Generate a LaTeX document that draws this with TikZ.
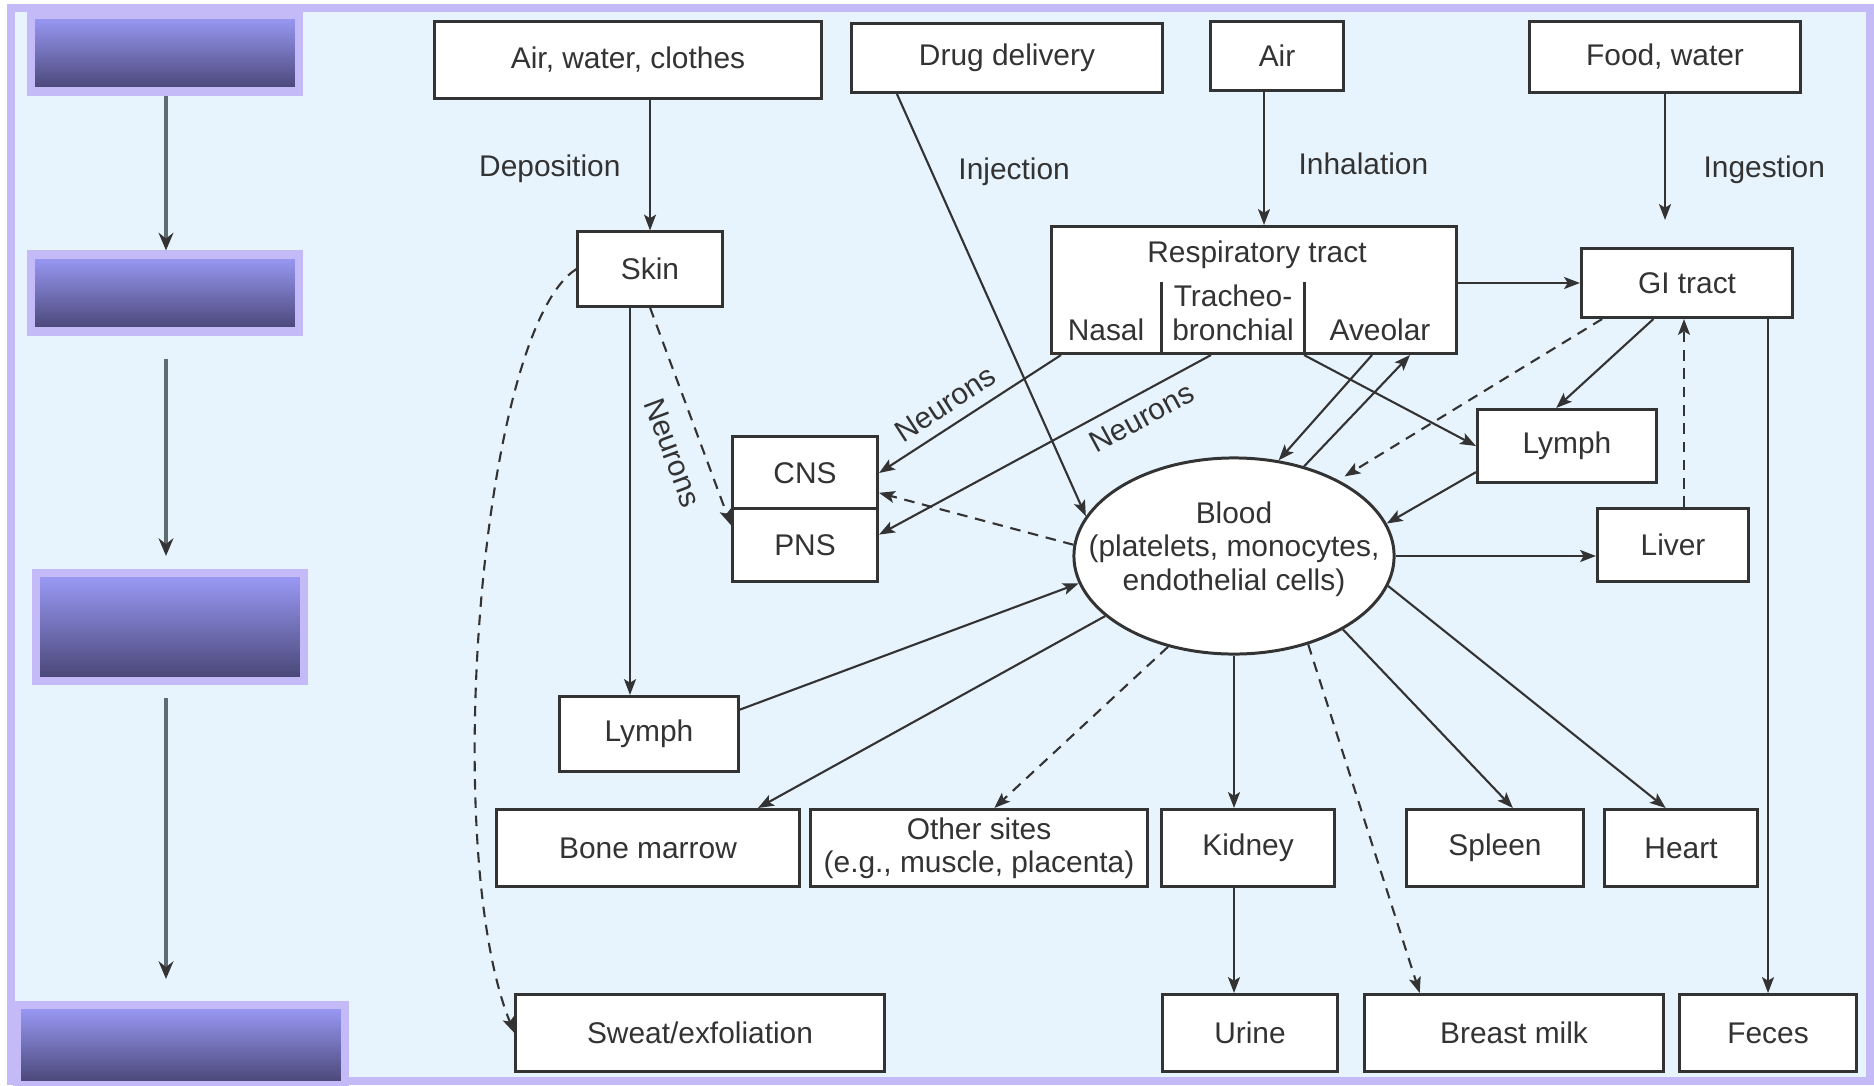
\documentclass[tikz,border=0pt]{standalone}
\usepackage{fontspec}
\setmainfont{Liberation Sans}
\usetikzlibrary{arrows.meta,shapes.geometric,positioning}

\definecolor{lav}{HTML}{C3BAF7}
\definecolor{bgblue}{HTML}{E8F4FD}
\definecolor{shadetop}{HTML}{9C9CFA}
\definecolor{shadebot}{HTML}{474473}
\definecolor{ink}{HTML}{333333}
\definecolor{stemgray}{HTML}{5E6B70}

\tikzset{
    box/.style={draw=ink, fill=white, line width=0.85pt, inner sep=1pt, align=center, text=ink},
    arr/.style={draw=ink, line width=0.6pt, -{Stealth[length=4.5pt,width=3.4pt,inset=1pt]}},
    darr/.style={arr, dash pattern=on 3pt off 2.2pt},
    lbl/.style={inner sep=1pt, text=ink},
    band/.style={draw=lav, line width=2.3pt, top color=shadetop, bottom color=shadebot},
    stem/.style={draw=stemgray, line width=0.9pt, -{Stealth[length=5pt,width=4.2pt,color=ink]}},
}

\begin{document}
\begin{tikzpicture}[x=0.01cm, y=-0.01cm, font=\fontsize{8.5}{9.5}\selectfont]
        \useasboundingbox (0,0) rectangle (1874,1085);
        %% Frame
        \fill[lav] (7,4) rectangle (1874,1085);
        \fill[bgblue] (15,12) rectangle (1866,1077);

        %% Left column
        \node[band, minimum width=2.68cm, minimum height=0.77cm] (stage1) at (165,53) {};
        \node[band, minimum width=2.68cm, minimum height=0.77cm] (stage2) at (165,293) {};
        \node[band, minimum width=2.67cm, minimum height=1.08cm] (stage3) at (170,627) {};
        \node[band, minimum width=3.28cm, minimum height=0.80cm] (stage4) at (181,1045) {};
        \draw[stem] (166,0 |- stage1.south) -- (166,0 |- stage2.north);
        \draw[stem, shorten <=0.23cm, shorten >=0.13cm] (166,0 |- stage2.south) -- (166,0 |- stage3.north);
        \draw[stem, shorten <=0.13cm, shorten >=0.22cm] (166,0 |- stage3.south) -- (166,0 |- stage4.north);

        %% Sources
        \node[box, minimum width=3.87cm, minimum height=0.76cm] (awc) at (628,60) {Air, water, clothes};
        \node[box, minimum width=3.11cm, minimum height=0.69cm] (drug) at (1007,58) {Drug delivery};
        \node[box, minimum width=1.32cm, minimum height=0.69cm] (air) at (1277,56) {Air};
        \node[box, minimum width=2.71cm, minimum height=0.70cm] (food) at (1665,57) {Food, water};

        %% Organs
        \node[box, minimum width=1.44cm, minimum height=0.74cm] (skin) at (650,269) {Skin};
        \node[box, minimum width=4.05cm, minimum height=1.27cm] (resp) at (1254,290) {};
        \node[lbl] (resptitle) at (1257,255) {Respiratory tract};
        \node[lbl] (nasal) at (1106,330) {Nasal};
        \node[lbl, align=center] (trach) at (1233,313) {Tracheo-\\bronchial};
        \node[lbl] (aveol) at (1380,330) {Aveolar};
        \draw[ink, line width=0.85pt] (1161,282) -- (1161,0 |- resp.south);
        \draw[ink, line width=0.85pt] (1304,282) -- (1304,0 |- resp.south);
        \node[box, minimum width=2.11cm, minimum height=0.69cm] (gi) at (1687,283) {GI tract};
        \node[box, minimum width=1.79cm, minimum height=0.73cm] (lymphR) at (1567,446) {Lymph};
        \node[box, minimum width=1.51cm, minimum height=0.73cm] (liver) at (1673,545) {Liver};
        \node[box, minimum width=1.45cm, minimum height=0.72cm] (cns) at (805,473) {CNS};
        \node[box, minimum width=1.45cm, minimum height=0.73cm] (pns) at (805,545) {PNS};
        \node[box, ellipse, minimum width=3.2cm, minimum height=1.96cm] (blood) at (1234,556) {};
        \node[lbl, align=center] (bloodtxt) at (1234,549) {Blood\\(platelets, monocytes,\\endothelial cells)};
        \node[box, minimum width=1.78cm, minimum height=0.75cm] (lymphL) at (649,734) {Lymph};

        %% Bottom rows
        \node[box, minimum width=3.03cm, minimum height=0.77cm] (marrow) at (648,848) {Bone marrow};
        \node[box, minimum width=3.36cm, minimum height=0.77cm] (other) at (979,848) {Other sites\\(e.g., muscle, placenta)};
        \node[box, minimum width=1.73cm, minimum height=0.77cm] (kidney) at (1248,848) {Kidney};
        \node[box, minimum width=1.76cm, minimum height=0.77cm] (spleen) at (1495,848) {Spleen};
        \node[box, minimum width=1.53cm, minimum height=0.77cm] (heart) at (1681,848) {Heart};
        \node[box, minimum width=3.68cm, minimum height=0.77cm] (sweat) at (700,1033) {Sweat/exfoliation};
        \node[box, minimum width=1.75cm, minimum height=0.77cm] (urine) at (1250,1033) {Urine};
        \node[box, minimum width=2.98cm, minimum height=0.77cm] (milk) at (1514,1033) {Breast milk};
        \node[box, minimum width=1.77cm, minimum height=0.77cm] (feces) at (1768,1033) {Feces};

        %% Uptake
        \draw[arr] (skin.north |- awc.south) -- (skin.north)
            node[lbl, pos=0.53, left=0.25cm] {Deposition};
        \draw[arr] ([xshift=0.47cm]drug.south west) -- (blood.165)
            node[lbl, pos=0.185, right=0.22cm] {Injection};
        \draw[arr] (1264,0 |- air.south) -- (1264,0 |- resp.north)
            node[lbl, pos=0.54, right=0.3cm] {Inhalation};
        \draw[arr, shorten >=0.27cm] (food.south) -- (food.south |- gi.north)
            node[lbl, pos=0.5, right=0.34cm] {Ingestion};

        %% Respiratory and GI routes
        \draw[arr] (resp.east |- gi.west) -- (gi.west);
        \draw[arr] (1061,0 |- resp.south) -- (cns.east)
            node[lbl, sloped, pos=0.57, above=2pt] {Neurons};
        \draw[arr] (1211,0 |- resp.south) -- (pns.8)
            node[lbl, sloped, pos=0.24, below=2pt] {Neurons};
        \draw[arr] (1372,0 |- resp.south) -- (blood.65);
        \draw[arr] (blood.52) -- (1410,0 |- resp.south);
        \draw[arr] (1304,0 |- resp.south) -- (lymphR.west);
        \draw[darr, shorten >=2pt] (gi.-157) -- (blood.36);
        \draw[arr] (gi.-133) -- (lymphR.106);
        \draw[arr] (lymphR.196) -- (blood.12);
        \draw[arr] (blood.east) -- (blood.east -| liver.west);
        \draw[darr] (1684,0 |- liver.north) -- (1684,0 |- gi.south);
        \draw[arr] (feces.north |- gi.south) -- (feces.north);

        %% Skin routes
        \draw[arr] (630,0 |- skin.south) -- (630,0 |- lymphL.north);
        \draw[darr] (skin.south) -- (pns.165)
            node[lbl, sloped, pos=0.62, below=4pt] {Neurons};
        \draw[darr] (skin.west) .. controls (480,330) and (440,850) .. (sweat.west);

        %% Distribution from blood
        \draw[darr] (blood.176) -- (cns.-15);
        \draw[arr] (lymphL.15) -- (blood.190);
        \draw[arr] (blood.205) -- (marrow.20);
        \draw[darr] (blood.234) -- (other.69);
        \draw[arr] (blood.south) -- (blood.south |- kidney.north);
        \draw[arr] (blood.south |- kidney.south) -- (blood.south |- urine.north);
        \draw[darr] (blood.-50) -- (milk.157);
        \draw[arr] (blood.-34) -- (spleen.66);
        \draw[arr] (blood.-11) -- (heart.111);
    \end{tikzpicture}
\end{document}
